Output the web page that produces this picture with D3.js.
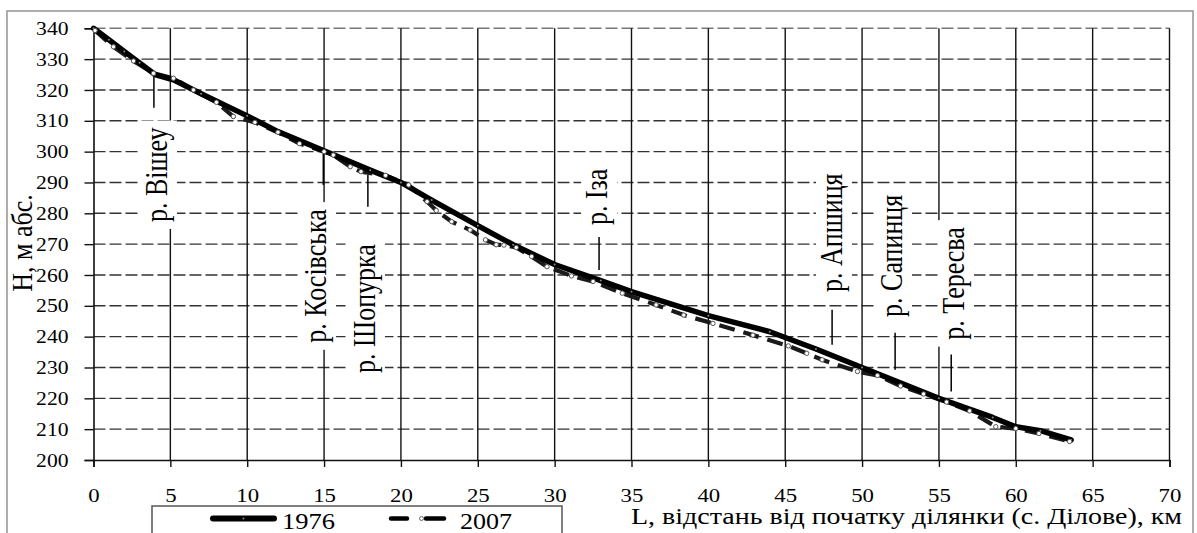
<!DOCTYPE html>
<html><head><meta charset="utf-8">
<script src="https://cdn.jsdelivr.net/npm/d3@7"></script>
<style>
html,body{margin:0;padding:0;background:#fff;}
svg{display:block;}
text{font-family:"Liberation Serif","DejaVu Serif",serif;fill:#000;}
</style></head>
<body>
<svg id="chart" width="1197" height="533"></svg>
<script>
// ---- data ----
const profile1976L = [0,1,2,3,4,5.2,7,10,12,15,18,20,22,25,27.3,30,33,35,40,44,47,50,55,58.5,60,61.6,63.6];
const profile1976H = [340,336.3,332.5,328.8,325,323.3,318.8,311.6,306.5,300.3,294,290,284.3,276,269.8,263.4,258.2,254.6,246.8,241.6,236,230,220,213.8,210.8,209.5,206.5];

const profile2007L = [0.1,1.3,2.6,3.9,5.2,6.5,8,9.1,10.5,12,13.4,15,15.6,16.7,17.4,19,20.5,21.7,22.3,23.3,24.5,25.5,26.2,26.7,27.5,28.5,29.5,31.1,32.5,34.4,36.6,38.4,40.3,42.9,45.2,46.4,47.4,49.7,51,52.5,54,55.5,57,58.7,60,61.5,63.5];
const profile2007H = [339.3,334,329.4,325.4,323.8,320,316,311.4,309.5,306.3,302.6,300,298.9,295.1,293.5,292.3,289.2,283.8,280.9,277.3,274.6,271.4,269.8,269.7,268.9,266,262.7,259.7,257.9,254.1,250.3,247,244.3,240.5,237,234.6,232.5,228.7,227.4,224,221.4,218.8,215.9,210.8,210.2,208.6,206];

const xTicks = [0,5,10,15,20,25,30,35,40,45,50,55,60,65,70];
const yTicks = [200,210,220,230,240,250,260,270,280,290,300,310,320,330,340];

const riverNames = ["р. Вішеу","р. Косівська","р. Шопурка","р. Іза","р. Апшиця","р. Сапинця","р. Тересва"];
const riverKm = [3.93,14.95,17.85,32.89,48.05,52.15,55.8];
const leaderTopH = [324.9,300.5,292.4,261.6,237.4,229.3,222.2];
const leaderBottomH = [314.2,289.2,282.1,272.3,248.7,241.3,234.2];
const labelKm = [4.78,15.13,18.31,33.41,48.69,52.6,56.63];
const labelStartH = [277.2,238.0,228.2,276.2,254.5,246.4,239.0];

const seriesNames = ["1976","2007"];
const xTitle = "L, відстань від початку ділянки (с. Ділове), км";
const yTitle = "H, м абс.";

// ---- drawing ----
const svg = d3.select("#chart");
const x = d3.scaleLinear().domain([0,70]).range([93.5,1169.5]);
const y = d3.scaleLinear().domain([200,340]).range([460,28.3]);
const FONT = '"Liberation Serif","DejaVu Serif",serif';

// outer frame
svg.append("rect").attr("x",7).attr("y",11).attr("width",1186).attr("height",540)
  .attr("fill","#fff").attr("stroke","#9a9a9a").attr("stroke-width",1.6);

// horizontal dashed grid
svg.append("g").selectAll("line").data(yTicks.filter(d=>d>200)).join("line")
  .attr("x1",x(0)).attr("x2",x(70)).attr("y1",d=>y(d)).attr("y2",d=>y(d))
  .attr("stroke",d=>d===340?"#777":"#333").attr("stroke-width",1.4)
  .attr("stroke-dasharray","12,4");

// vertical solid grid
svg.append("g").selectAll("line").data(xTicks.filter(d=>d>0)).join("line")
  .attr("x1",d=>x(d)).attr("x2",d=>x(d)).attr("y1",y(340)).attr("y2",y(200))
  .attr("stroke","#111").attr("stroke-width",1.4);

// river labels (white boxes, text, leaders)
const labG = svg.append("g");
riverNames.forEach((name,i)=>{
  const bx = x(labelKm[i]), by = y(labelStartH[i]);
  const g = labG.append("g");
  const box = g.append("rect").attr("fill","#fff");
  const t = g.append("text").text(name)
    .attr("font-size",26).attr("font-family",FONT)
    .attr("transform",`translate(${bx},${by}) scale(1.2,1) rotate(-90)`);
  const len = t.node().getComputedTextLength();
  box.attr("x",bx-26).attr("y",by-len-7).attr("width",36).attr("height",len+14);
  g.append("line").attr("x1",x(riverKm[i])).attr("x2",x(riverKm[i]))
    .attr("y1",y(leaderTopH[i])).attr("y2",y(leaderBottomH[i]))
    .attr("stroke","#000").attr("stroke-width",1.5);
});

// y axis
const yAxis = svg.append("g").attr("transform",`translate(${x(0)},0)`)
  .call(d3.axisLeft(y).tickValues(yTicks).tickSize(9).tickPadding(0).tickFormat(d3.format("d")));
yAxis.attr("font-family",FONT);
yAxis.select(".domain").attr("stroke","#111").attr("stroke-width",1.6);
yAxis.selectAll(".tick line").attr("stroke","#111").attr("stroke-width",1.4);
yAxis.selectAll(".tick text").attr("x",0).attr("dy","0.34em")
  .attr("transform","translate(-25,0) scale(1.2,1)")
  .attr("font-size",18).attr("font-family",FONT).attr("fill","#000");

// x axis
const xAxis = svg.append("g").attr("transform",`translate(0,${y(200)})`)
  .call(d3.axisBottom(x).tickValues(xTicks).tickSize(7).tickPadding(0).tickFormat(d3.format("d")));
xAxis.attr("font-family",FONT);
xAxis.select(".domain").attr("stroke","#111").attr("stroke-width",1.6);
xAxis.selectAll(".tick line").attr("stroke","#111").attr("stroke-width",1.4);
xAxis.selectAll(".tick text").attr("y",0).attr("dy",0)
  .attr("transform","translate(0,41.5) scale(1.2,1)")
  .attr("font-size",19).attr("font-family",FONT).attr("fill","#000");

// profiles
const d1976 = profile1976L.map((L,i)=>[L,profile1976H[i]]);
const d2007 = profile2007L.map((L,i)=>[L,profile2007H[i]]);
const line = d3.line().x(d=>x(d[0])).y(d=>y(d[1]));

svg.append("path").datum(d2007).attr("d",line).attr("fill","none")
  .attr("stroke","#1a1a1a").attr("stroke-width",4.2).attr("stroke-dasharray","16,9");
svg.append("path").datum(d1976).attr("d",line).attr("fill","none")
  .attr("stroke","#000").attr("stroke-width",5.5).attr("stroke-linejoin","round").attr("stroke-linecap","round");
svg.append("g").selectAll("circle").data(d1976).join("circle")
  .attr("cx",d=>x(d[0])).attr("cy",d=>y(d[1])).attr("r",1).attr("fill","#888");
svg.append("g").selectAll("circle").data(d2007).join("circle")
  .attr("cx",d=>x(d[0])).attr("cy",d=>y(d[1])).attr("r",2.2)
  .attr("fill","#fff").attr("stroke","#555").attr("stroke-width",1);

// axis titles
svg.append("text").text(xTitle).attr("x",1182).attr("y",524).attr("text-anchor","end")
  .attr("font-size",23).attr("font-family",FONT)
  .attr("textLength",551).attr("lengthAdjust","spacingAndGlyphs");
svg.append("text").text(yTitle).attr("text-anchor","middle").attr("font-size",26)
  .attr("font-family",FONT)
  .attr("transform","translate(32,243) scale(1.15,1) rotate(-90)");

// legend
const lg = svg.append("g");
lg.append("rect").attr("x",152).attr("y",506).attr("width",410).attr("height",40)
  .attr("fill","#fff").attr("stroke","#555").attr("stroke-width",1.5);
lg.append("line").attr("x1",213).attr("x2",274).attr("y1",518.5).attr("y2",518.5)
  .attr("stroke","#000").attr("stroke-width",6).attr("stroke-linecap","round");
lg.append("circle").attr("cx",243.5).attr("cy",518.5).attr("r",1).attr("fill","#888");
lg.append("text").text(seriesNames[0]).attr("x",282).attr("y",529).attr("font-size",23)
  .attr("font-family",FONT).attr("textLength",53).attr("lengthAdjust","spacingAndGlyphs");
lg.append("line").attr("x1",391).attr("x2",407).attr("y1",518.5).attr("y2",518.5)
  .attr("stroke","#000").attr("stroke-width",4.5).attr("stroke-linecap","round");
lg.append("line").attr("x1",426).attr("x2",444).attr("y1",518.5).attr("y2",518.5)
  .attr("stroke","#000").attr("stroke-width",4.5).attr("stroke-linecap","round");
lg.append("circle").attr("cx",421.5).attr("cy",518.5).attr("r",2).attr("fill","#fff")
  .attr("stroke","#666").attr("stroke-width",1);
lg.append("text").text(seriesNames[1]).attr("x",460).attr("y",529).attr("font-size",23)
  .attr("font-family",FONT).attr("textLength",52).attr("lengthAdjust","spacingAndGlyphs");
</script>
</body></html>
